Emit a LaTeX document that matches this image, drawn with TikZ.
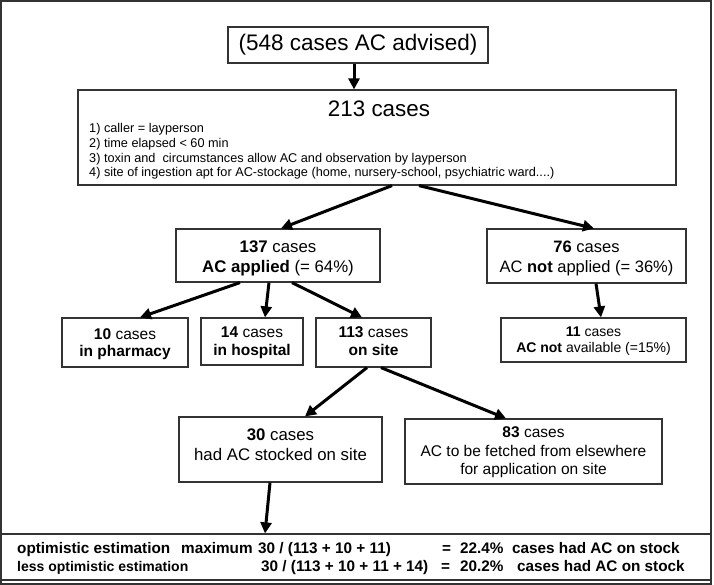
\documentclass[tikz,border=0pt]{standalone}
\usepackage{fontspec}
\setmainfont{Liberation Sans}
\usepackage{tikz}
\usetikzlibrary{shapes, arrows.meta, positioning}

\newcommand{\setfs}[2]{\fontsize{#1}{#2}\selectfont}
\tikzset{
  box/.style={draw=black!80, line width=1.2pt, inner sep=0pt},
  txt/.style={inner sep=0pt, align=center},
  arr/.style={line width=3pt, -{Triangle[length=11pt,width=11pt]}},
  est/.style={anchor=base west, inner sep=0pt, font=\bfseries\setfs{15.3}{18}}
}

\begin{document}
\begin{tikzpicture}[x=1pt, y=-1pt]
\useasboundingbox (0,0) rectangle (714,585);
\draw [line width=1.2pt, black!80] (1,1) rectangle (711,584);

% top
\node[box, minimum width=260pt, minimum height=36pt, font=\setfs{22.5}{26}] (top) at (358,45) {(548 cases AC advised)};
\node[box, minimum width=598pt, minimum height=95pt] (b213) at (377,137.5) {};
\node[anchor=base, inner sep=0pt, font=\setfs{22.4}{26}] (t213) at (379,117) {213 cases};
\foreach \i/\txt in {1/{caller = layperson}, 2/{time elapsed < 60 min},
    3/{toxin and\ \ circumstances allow AC and observation by layperson},
    4/{site of ingestion apt for AC-stockage (home, nursery-school, psychiatric ward....)}}
  \node[anchor=base west, inner sep=0pt, font=\setfs{12.7}{14}] (c\i) at (89,{118.4+14.6*\i}) {\i) \txt};

% second row
\node[box, minimum width=204pt, minimum height=53pt] (b137) at (278,255.5) {};
\node[txt, font=\setfs{16.8}{20}] (t137) at ([yshift=-3pt]b137.center) {\textbf{137} cases\\\textbf{AC applied} (= 64\%)};
\node[box, minimum width=199pt, minimum height=54pt] (b76) at (586.5,256) {};
\node[txt, font=\setfs{16.5}{20}] (t76) at ([yshift=-2.5pt]b76.center) {\textbf{76} cases\\AC \textbf{not} applied (= 36\%)};

% third row
\node[box, minimum width=126pt, minimum height=49pt] (b10) at (125,342.5) {};
\node[txt, font=\setfs{15.5}{17}] (t10) at ([yshift=-2pt]b10.center) {\textbf{10} cases\\\textbf{in pharmacy}};
\node[box, minimum width=102pt, minimum height=47pt] (b14) at (252,341.5) {};
\node[txt, font=\setfs{15.5}{18}] (t14) at ([yshift=-1.5pt]b14.center) {\textbf{14} cases\\\textbf{in hospital}};
\node[box, minimum width=115pt, minimum height=49pt] (b113) at (373.5,342.5) {};
\node[txt, font=\setfs{15.5}{18}] (t113) at ([yshift=1pt]b113.center) {\textbf{113} cases\\\textbf{on site}};
\node[box, minimum width=185pt, minimum height=44pt] (b11) at (593.5,340) {};
\node[txt, font=\setfs{14}{16}] (t11) at ([yshift=-1.5pt]b11.center) {\textbf{11} cases\\\textbf{AC not} available (=15\%)};

% fourth row
\node[box, minimum width=203pt, minimum height=65pt] (b30) at (280.5,449.5) {};
\node[txt, font=\setfs{16.8}{20}] (t30) at ([yshift=5pt]b30.center) {\textbf{30} cases\\had AC stocked on site};
\node[box, minimum width=257pt, minimum height=65pt] (b83) at (533.5,451.5) {};
\node[txt, font=\setfs{15.5}{18.5}] (t83) at ([yshift=-1pt]b83.center) {\textbf{83} cases\\AC to be fetched from elsewhere\\for application on site};

% estimation
\node[box, minimum width=710pt, minimum height=46pt] (est) at (356.5,557) {};
\foreach \x/\txt [count=\k] in {17/{optimistic estimation}, 181/maximum, 258/{30 / (113 + 10 + 11)},
    442/{=}, 460/{22.4\%}, 512/{cases had AC on stock}}
  \node[est] (o\k) at (\x,553) {\txt};
\node[est, font=\bfseries\setfs{14}{16}] (l1) at (17,571) {less optimistic estimation};
\foreach \x/\txt [count=\k from 2] in {261/{30 / (113 + 10 + 11 + 14)}, 441/{=}, 460/{20.2\%},
    517/{cases had AC on stock}}
  \node[est] (l\k) at (\x,571) {\txt};

% arrows
\draw [arr] ([xshift=-4pt]top.south) -- ([xshift=-4pt]top.south |- b213.north);
\draw [arr] ([xshift=15pt]b213.south) -- ([xshift=3pt]b137.north);
\draw [arr] ([xshift=42pt]b213.south) -- ([xshift=7.5pt]b76.north);
\draw [arr] ([xshift=-38pt]b137.south) -- ([xshift=15pt]b10.north);
\draw [arr] ([xshift=-9pt]b137.south) -- ([xshift=13pt]b14.north);
\draw [arr] ([xshift=14pt]b137.south) -- ([xshift=-11.5pt]b113.north);
\draw [arr] ([xshift=9.5pt]b76.south) -- ([xshift=7.5pt]b11.north);
\draw [arr] ([xshift=-6.5pt]b113.south) -- ([xshift=24.5pt]b30.north);
\draw [arr] ([xshift=7.5pt]b113.south) -- ([xshift=-27.5pt]b83.north);
\draw [arr] ([xshift=-10.5pt]b30.south) -- ([xshift=-91.5pt]est.north);
\end{tikzpicture}
\end{document}
